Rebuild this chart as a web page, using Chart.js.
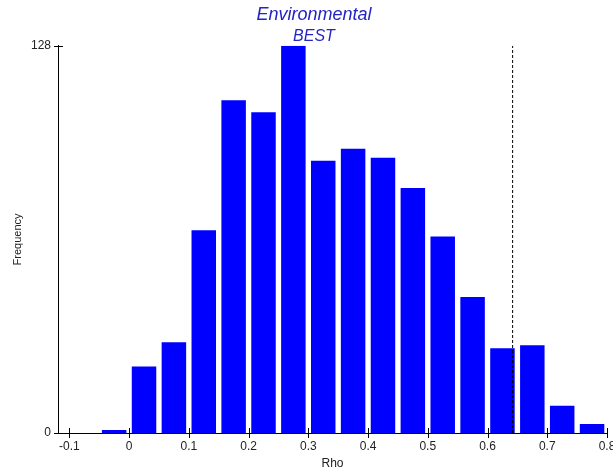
<!DOCTYPE html>
<html><head><meta charset="utf-8">
<script src="https://cdn.jsdelivr.net/npm/chart.js@4/dist/chart.umd.min.js"></script>
<style>html,body{margin:0;padding:0;overflow:hidden;background:#fff;width:613px;height:472px}canvas{display:block}</style>
</head><body><canvas id="c" width="627" height="472"></canvas>
<script>
const binCenters = [-0.025,0.025,0.075,0.125,0.175,0.225,0.275,0.325,0.375,0.425,0.475,0.525,0.575,0.625,0.675,0.725,0.775];
const frequencies = [1,22,30,67,110,106,128,90,94,91,81,65,45,28,29,9,3];
const xTickValues = [-0.1,0,0.1,0.2,0.3,0.4,0.5,0.6,0.7,0.8];
const yTickValues = [0,128];
const observedRho = 0.642;
const titleText = 'Environmental';
const subtitleText = 'BEST';
const xTitle = 'Rho';
const yTitle = 'Frequency';
const xMin = -0.119, xMax = 0.8, yMax = 128;

const FONT = 'Liberation Sans, Arial, sans-serif';

const crossTicks = {
  id: 'crossTicks',
  afterDatasetsDraw(chart) {
    const {ctx, scales: {x, y}} = chart;
    ctx.save();
    ctx.strokeStyle = '#000';
    ctx.lineWidth = 1;
    ctx.beginPath();
    x.ticks.forEach(t => {
      const px = Math.round(x.getPixelForValue(t.value)) + 0.5;
      ctx.moveTo(px, y.bottom - 5); ctx.lineTo(px, y.bottom + 5);
    });
    y.ticks.forEach(t => {
      const py = Math.round(y.getPixelForValue(t.value)) + 0.5;
      ctx.moveTo(x.left - 4, py); ctx.lineTo(x.left + 5, py);
    });
    ctx.stroke();
    ctx.restore();
  }
};

const centerTitles = {
  id: 'centerTitles',
  afterLayout(chart) {
    chart.boxes.forEach(b => {
      if (b.position === 'top' && !b.axis) { b.left = 0; b.right = 628; b.width = 628; }
    });
  }
};

new Chart(document.getElementById('c'), {
  type: 'bar',
  data: {
    datasets: [
      {
        type: 'line',
        data: [{x: observedRho, y: 0}, {x: observedRho, y: yMax}],
        borderColor: '#000',
        borderWidth: 1,
        borderDash: [3, 2],
        pointRadius: 0,
        fill: false,
        order: 0
      },
      {
        type: 'bar',
        data: binCenters.map((c, i) => ({x: c, y: frequencies[i]})),
        backgroundColor: '#0000ff',
        borderWidth: 0,
        categoryPercentage: 1,
        barPercentage: 0.82,
        order: 1
      }
    ]
  },
  options: {
    responsive: false,
    animation: false,
    events: [],
    layout: {padding: {left: 0, right: 20, top: 0, bottom: 0}},
    plugins: {
      legend: {display: false},
      tooltip: {enabled: false},
      title: {
        display: true, text: titleText, color: '#2424c4',
        font: {family: FONT, size: 18, style: 'italic', weight: 'normal'},
        padding: {top: 4, bottom: 0}
      },
      subtitle: {
        display: true, text: subtitleText, color: '#2424c4',
        font: {family: FONT, size: 16, style: 'italic', weight: 'normal'},
        padding: {top: 1, bottom: 0}
      }
    },
    scales: {
      x: {
        type: 'linear', min: xMin, max: xMax, offset: false,
        afterBuildTicks: s => { s.ticks = xTickValues.map(v => ({value: v})); },
        grid: {display: false, drawTicks: false},
        border: {display: true, color: '#000', width: 1},
        ticks: {
          padding: 6, color: '#222', autoSkip: false, maxRotation: 0,
          font: {family: FONT, size: 12},
          callback: v => String(Math.round(v * 10) / 10)
        },
        title: {display: true, text: xTitle, color: '#222', font: {family: FONT, size: 12}, padding: {top: 0, bottom: 1}},
        afterFit: s => { s.height = 39; }
      },
      y: {
        min: 0, max: yMax,
        afterBuildTicks: s => { s.ticks = yTickValues.map(v => ({value: v})); },
        grid: {display: false, drawTicks: false},
        border: {display: true, color: '#000', width: 1},
        ticks: {padding: 7, color: '#222', font: {family: FONT, size: 12}},
        title: {display: true, text: yTitle, color: '#222', font: {family: FONT, size: 11}, padding: {top: 11, bottom: 0}},
        afterFit: s => { s.width = 58; }
      }
    }
  },
  plugins: [crossTicks, centerTitles]
});
</script>
</body></html>
